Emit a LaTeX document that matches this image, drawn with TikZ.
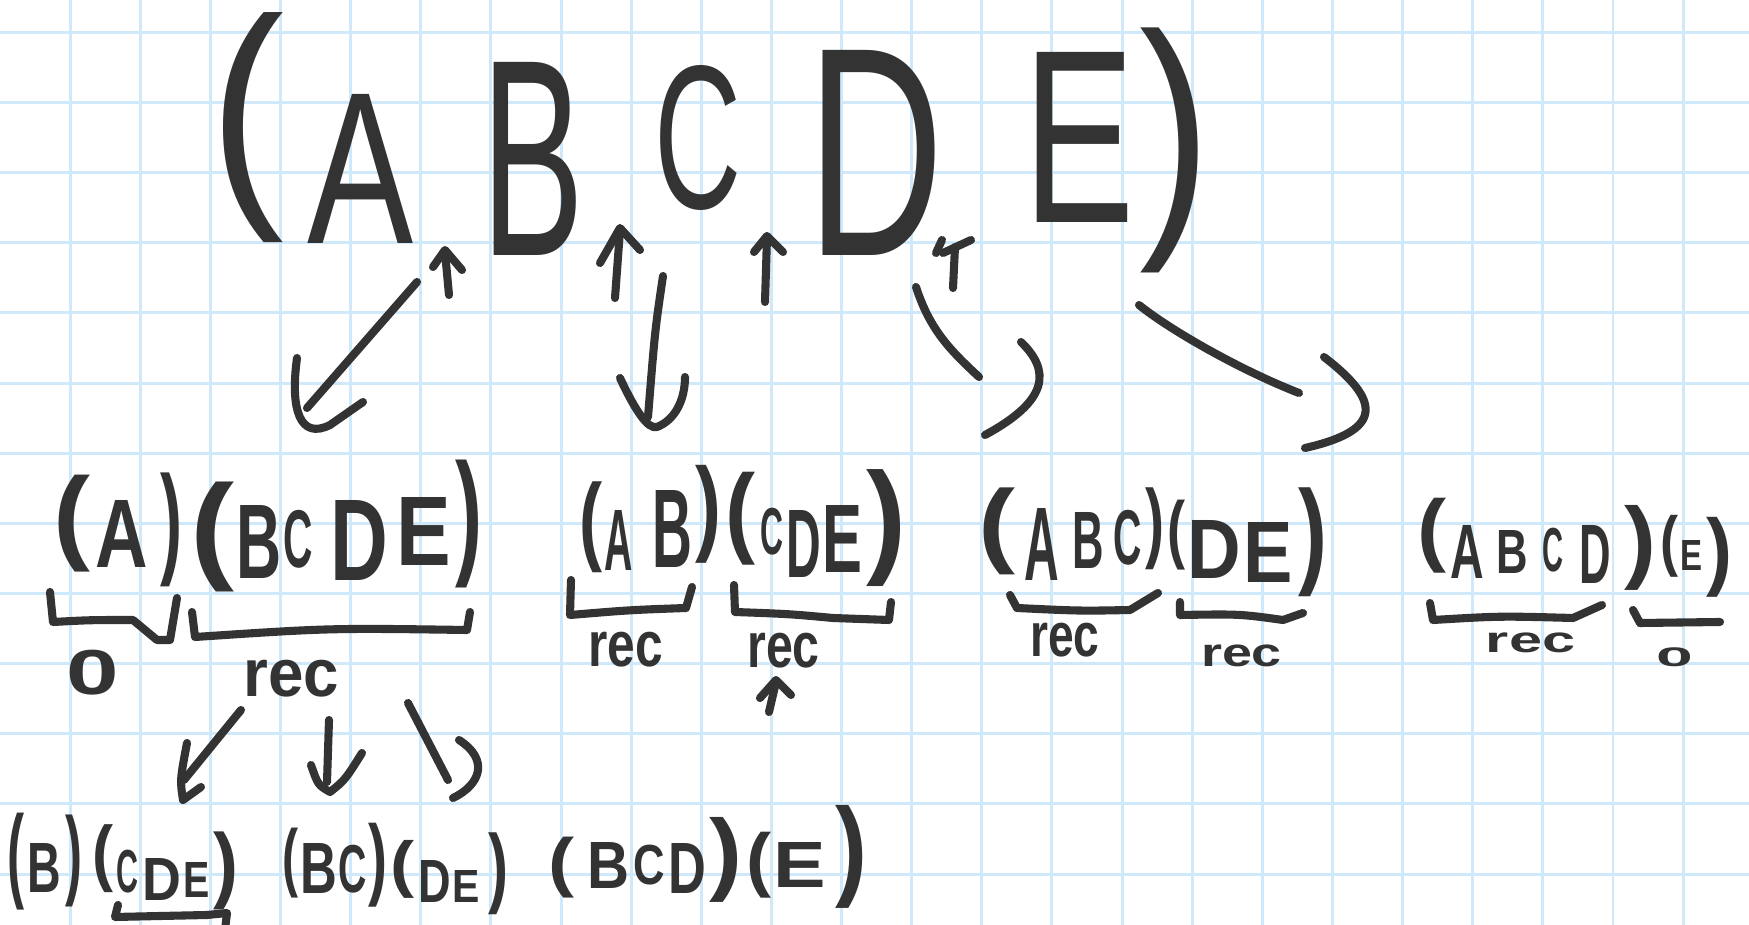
\documentclass[tikz,border=0pt]{standalone}
\usepackage{fontspec}
\setmainfont{Liberation Sans}
\usepackage{graphicx}
\definecolor{inkc}{HTML}{333333}
\definecolor{gridc}{HTML}{CFE9FA}
\newcounter{glc}
\def\glf{}
\newcommand\gl[6][1.05]{%
  \pgfmathsetlengthmacro\glw{(#4-#2)*#1*0.02cm}%
  \pgfmathsetlengthmacro\glh{(#5-#3)*0.02cm}%
  \stepcounter{glc}%
  \node[glyph] (g\arabic{glc}) at ({(#2+#4)/2},{(#3+#5)/2}) {\resizebox*{\glw}{\glh}{\glf #6}};%
}
\begin{document}
\begin{tikzpicture}[x=0.02cm,y=-0.02cm,
  ink/.style={draw=inkc, line width=4.6pt, line cap=round, line join=round},
  glyph/.style={inner sep=0pt, outer sep=0pt, text=inkc},
  gridline/.style={draw=gridc, line width=1.7pt}]
\fill[white] (0,0) rectangle (1749,925);
\useasboundingbox (0,0) rectangle (1749,925);
\foreach \i in {1,...,24} \draw[gridline] ({70.13*\i},0) -- ({70.13*\i},925);
\foreach \j in {0,...,12} \draw[gridline] (0,{32.3+70.15*\j}) -- (1749,{32.3+70.15*\j});

% ---- top row (ABCDE)
\gl[1]{210}{13}{285}{243}{(}
\gl{310}{94}{411}{243}{A}
\gl{484}{62}{582}{255}{B}
\gl{657}{65}{740}{210}{C}
\gl{811}{50}{941}{255}{D}
\gl{1026}{52}{1132}{222}{E}
\gl[1]{1140}{28}{1212}{273}{)}

% split markers (small up arrows)
\draw[ink] (449,295) -- (445,252);
\draw[ink] (433,267) -- (445,250) -- (462,270);
\draw[ink] (615,298) -- (620,230);
\draw[ink] (600,263) -- (620,228) -- (640,250);
\draw[ink] (765,302) -- (767,237);
\draw[ink] (754,252) -- (767,236) -- (783,252);
\draw[ink] (953,288) -- (955,247);
\draw[ink] (936,253) -- (942,240);
\draw[ink] (943,253) -- (971,240);

% arrows to the four splits
\draw[ink] (417,282) -- (307,408);
\draw[ink] (297,358) .. controls (290,410) and (300,440) .. (330,425) -- (363,402);
\draw[ink] (663,276) .. controls (655,330) .. (648,417);
\draw[ink] (620,378) .. controls (635,410) and (648,430) .. (657,427) .. controls (675,420) and (685,400) .. (685,377);
\draw[ink] (916,287) .. controls (930,330) and (950,350) .. (979,377);
\draw[ink] (1021,342) .. controls (1050,370) and (1050,400) .. (985,435);
\draw[ink] (1139,305) .. controls (1170,330) and (1240,370) .. (1299,393);
\draw[ink] (1324,357) .. controls (1380,400) and (1385,430) .. (1305,448);

% ---- second row
\def\glf{\bfseries}
% (A)(BCDE)
\gl[1]{53}{475}{90}{572}{(}
\gl{97}{500}{147}{567}{A}
\gl[1]{160}{473}{182}{587}{)}
\gl[1]{190}{482}{234}{592}{(}
\gl{238}{505}{281}{578}{B}
\gl{284}{510}{312}{568}{C}
\gl{332}{500}{387}{580}{D}
\gl{398}{497}{450}{565}{E}
\gl[1]{455}{460}{482}{588}{)}
\draw[ink] (50,592) -- (53,622) .. controls (90,620) .. (133,620) -- (157,640) -- (170,640) -- (177,598);
\draw[ink] (192,612) -- (195,637) .. controls (330,628) .. (467,630) -- (470,612);
\gl[1.05]{68}{650}{118}{695}{0}
\gl[1.05]{246}{660}{337}{697}{rec}
\draw[ink] (241,710) -- (184,780);
\draw[ink] (187,743) .. controls (180,780) .. (183,800) -- (201,787);
\draw[ink] (329,720) -- (327,782);
\draw[ink] (311,765) .. controls (318,785) .. (330,792) .. controls (345,780) .. (362,753);
\draw[ink] (408,703) -- (448,780);
\draw[ink] (459,740) .. controls (490,760) and (480,785) .. (453,798);

% (AB)(CDE)
\gl[1]{579}{482}{602}{573}{(}
\gl{605}{510}{632}{570}{A}
\gl{653}{490}{691}{567}{B}
\gl[1]{695}{465}{721}{563}{)}
\gl[1]{725}{472}{755}{565}{(}
\gl[1]{760}{508}{783}{555}{C}
\gl{787}{510}{820}{577}{D}
\gl{823}{505}{861}{572}{E}
\gl[1]{866}{470}{906}{587}{)}
\draw[ink] (571,580) -- (570,615) .. controls (630,610) .. (686,608) -- (692,587);
\draw[ink] (734,585) -- (735,612) .. controls (790,614) .. (833,618) -- (889,620) -- (891,602);
\gl[1.05]{590}{632}{661}{667}{rec}
\gl[1.05]{749}{633}{818}{668}{rec}
\draw[ink] (776,682) -- (769,712);
\draw[ink] (760,698) -- (776,680) -- (791,695);

% (ABC)(DE)
\gl[1]{978}{488}{1015}{575}{(}
\gl{1025}{508}{1058}{580}{A}
\gl{1073}{512}{1103}{568}{B}
\gl{1114}{510}{1141}{565}{C}
\gl[1]{1145}{488}{1164}{570}{)}
\gl[1]{1167}{500}{1185}{570}{(}
\gl{1189}{520}{1240}{578}{D}
\gl{1245}{522}{1292}{582}{E}
\gl[1]{1298}{488}{1327}{597}{)}
\draw[ink] (1010,595) -- (1017,608) .. controls (1080,611) .. (1130,610) -- (1158,593);
\draw[ink] (1180,602) -- (1180,615) .. controls (1240,614) .. (1283,620) -- (1303,613);
\gl[1.05]{1032}{623}{1098}{657}{rec}
\gl[1.05]{1203}{645}{1280}{667}{rec}

% (ABCD)(E)
\gl[1]{1417}{498}{1446}{573}{(}
\gl{1451}{525}{1483}{578}{A}
\gl{1497}{530}{1527}{573}{B}
\gl{1543}{528}{1563}{572}{C}
\gl{1580}{525}{1610}{583}{D}
\gl[1]{1624}{505}{1656}{590}{)}
\gl[1]{1660}{515}{1678}{577}{(}
\gl{1681}{540}{1702}{570}{E}
\gl[1]{1706}{517}{1732}{597}{)}
\draw[ink] (1430,603) -- (1433,620) .. controls (1500,616) .. (1573,618) -- (1602,605);
\draw[ink] (1633,610) -- (1640,623) .. controls (1680,622) .. (1720,622);
\gl[1.05]{1488}{633}{1573}{653}{rec}
\gl[1.05]{1657}{648}{1692}{667}{0}

% ---- bottom row
% (B)(CDE)
\gl[1]{8}{813}{25}{910}{(}
\gl{28}{843}{60}{892}{B}
\gl[1]{66}{815}{83}{907}{)}
\gl[1]{92}{825}{113}{893}{(}
\gl[1]{116}{850}{138}{893}{C}
\gl{143}{858}{180}{900}{D}
\gl{184}{862}{209}{897}{E}
\gl[1]{213}{832}{238}{910}{)}
\draw[ink] (118,905) -- (115,917) .. controls (160,916) .. (207,915) -- (227,913) -- (225,930);
% (BC)(DE)
\gl[1]{282}{828}{298}{898}{(}
\gl{301}{843}{336}{893}{B}
\gl{339}{845}{366}{893}{C}
\gl[1]{368}{823}{387}{907}{)}
\gl[1]{390}{840}{414}{898}{(}
\gl{419}{860}{450}{902}{D}
\gl{453}{870}{479}{902}{E}
\gl[1]{488}{833}{508}{915}{)}
% (BCD)(E)
\gl[1]{548}{837}{574}{898}{(}
\gl{588}{842}{628}{888}{B}
\gl{634}{845}{664}{885}{C}
\gl{669}{843}{705}{893}{D}
\gl[1]{709}{817}{742}{902}{)}
\gl[1]{746}{832}{771}{898}{(}
\gl{775}{842}{825}{887}{E}
\gl[1]{835}{805}{867}{908}{)}
\end{tikzpicture}
\end{document}
